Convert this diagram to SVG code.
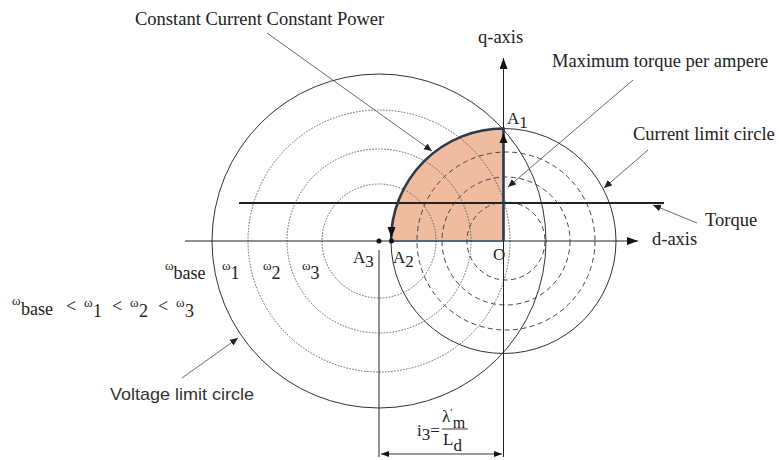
<svg xmlns="http://www.w3.org/2000/svg" width="779" height="460" viewBox="0 0 779 460">
<style>
.serif{font-family:"Liberation Serif","Times New Roman",serif;fill:#222}
.sans{font-family:"Liberation Sans",Arial,sans-serif;fill:#333}
.axis{stroke:#222;stroke-width:1;fill:none}
.solid{stroke:#333;stroke-width:1;fill:none}
.dotted{stroke:#555;stroke-width:0.9;fill:none;stroke-dasharray:1.6 1.4}
.dashed{stroke:#444;stroke-width:1;fill:none;stroke-dasharray:5 3.5}
.leader{stroke:#444;stroke-width:0.8;fill:none;marker-end:url(#ah)}
.w{font-size:13px}
</style>
<defs>
<marker id="ah" markerUnits="userSpaceOnUse" markerWidth="10" markerHeight="8" refX="8" refY="3.5" orient="auto">
<path d="M0,0 L8,3.5 L0,7 Z" fill="#222"/>
</marker>
<marker id="axh" markerUnits="userSpaceOnUse" markerWidth="12" markerHeight="10" refX="11" refY="4" orient="auto">
<path d="M0,0 L11,4 L0,8 Z" fill="#111"/>
</marker>
<marker id="dh" markerUnits="userSpaceOnUse" markerWidth="10" markerHeight="8" refX="8" refY="3" orient="auto-start-reverse">
<path d="M0,0 L8,3 L0,6 Z" fill="#111"/>
</marker>
</defs>

<g id="operating-region">
<path d="M391,241 A112.5,112.5 0 0 1 503.5,128.5 L503.5,241 Z" fill="#efbc9f"/>
<line x1="391" y1="241" x2="503.5" y2="241" stroke="#8fa9c6" stroke-width="2"/>
</g>

<g id="voltage-limit-circles">
<circle cx="379" cy="241" r="167" class="solid"/>
<circle cx="379" cy="241" r="131" class="dotted"/>
<circle cx="379" cy="241" r="92" class="dotted"/>
<circle cx="379" cy="241" r="57" class="dotted"/>
</g>

<g id="current-limit-circle">
<circle cx="503.5" cy="241" r="112.5" class="solid"/>
</g>

<g id="torque-curves">
<circle cx="506" cy="241" r="89" class="dashed"/>
<circle cx="506" cy="241" r="64" class="dashed"/>
<circle cx="506" cy="241" r="39" class="dashed"/>
</g>

<g id="axes">
<line x1="185" y1="241" x2="638" y2="241" class="axis" marker-end="url(#axh)"/>
<line x1="503.5" y1="457" x2="503.5" y2="58" class="axis" marker-end="url(#axh)"/>
<line x1="379" y1="250" x2="379" y2="457" class="axis"/>
<line x1="239" y1="203" x2="664" y2="203" stroke="#222" stroke-width="1.8"/>
</g>

<g id="region-boundary">
<path d="M503.5,241 L503.5,128.5 A112.5,112.5 0 0 0 391,241" fill="none" stroke="#2c3a4a" stroke-width="2.6"/>
<path d="M499.5,143 L503.5,133 L507.5,143 Z" fill="#111"/>
<path d="M387.5,227 L391.5,238 L395.5,227 Z" fill="#111"/>
<circle cx="379" cy="241" r="2.5" fill="#111"/>
<circle cx="391.5" cy="241" r="2.5" fill="#111"/>
</g>

<g id="connectors">
<line x1="267" y1="33" x2="432" y2="151" class="leader"/>
<line x1="633" y1="80" x2="508" y2="187" class="leader"/>
<line x1="648" y1="150" x2="604" y2="188" class="leader"/>
<line x1="697" y1="223" x2="653" y2="205" class="leader"/>
<line x1="182" y1="378" x2="238" y2="338" class="leader"/>
<line x1="381" y1="454" x2="502" y2="454" stroke="#222" stroke-width="0.9" marker-start="url(#dh)" marker-end="url(#dh)"/>
</g>

<g id="labels">
<text x="135" y="25" class="serif" font-size="18.5">Constant Current Constant Power</text>
<text x="478" y="43" class="serif" font-size="18.5">q-axis</text>
<text x="552" y="67" class="serif" font-size="18.5">Maximum torque per ampere</text>
<text x="633" y="140" class="serif" font-size="18.5">Current limit circle</text>
<text x="705" y="226" class="serif" font-size="18.5">Torque</text>
<text x="652" y="245" class="serif" font-size="18.5">d-axis</text>
<text x="507" y="124" class="serif" font-size="17">A<tspan dy="4">1</tspan></text>
<text x="353" y="263" class="serif" font-size="17">A<tspan dy="4">3</tspan></text>
<text x="393" y="263" class="serif" font-size="17">A<tspan dy="4">2</tspan></text>
<text x="493" y="260" class="serif" font-size="17">O</text>
<text x="165" y="270" class="serif" font-size="18"><tspan class="w">ω</tspan><tspan dy="9">base</tspan></text>
<text x="222" y="270" class="serif" font-size="18"><tspan class="w">ω</tspan><tspan dy="9">1</tspan></text>
<text x="263" y="270" class="serif" font-size="18"><tspan class="w">ω</tspan><tspan dy="9">2</tspan></text>
<text x="302" y="270" class="serif" font-size="18"><tspan class="w">ω</tspan><tspan dy="9">3</tspan></text>
<g id="inequality" class="serif" font-size="18">
<text x="12" y="305" class="serif w">ω</text>
<text x="21" y="315" class="serif">base</text>
<text x="66" y="312" class="serif">&lt;</text>
<text x="84" y="307" class="serif w">ω</text>
<text x="93" y="317" class="serif">1</text>
<text x="112" y="312" class="serif">&lt;</text>
<text x="130" y="307" class="serif w">ω</text>
<text x="139" y="317" class="serif">2</text>
<text x="158" y="312" class="serif">&lt;</text>
<text x="176" y="307" class="serif w">ω</text>
<text x="185" y="317" class="serif">3</text>
</g>
<text x="110" y="400" class="sans" font-size="17" textLength="144" lengthAdjust="spacingAndGlyphs">Voltage limit circle</text>
<text x="417" y="436" class="serif" font-size="17">i<tspan dy="4">3</tspan><tspan dy="-4">=</tspan></text>
<text x="442" y="422" class="serif" font-size="17">λ<tspan font-size="11" dy="-6">′</tspan><tspan dy="12" font-size="16">m</tspan></text>
<line x1="442" y1="429" x2="468" y2="429" stroke="#222" stroke-width="0.9"/>
<text x="443" y="445" class="serif" font-size="17">L<tspan dy="6">d</tspan></text>
</g>
</svg>
